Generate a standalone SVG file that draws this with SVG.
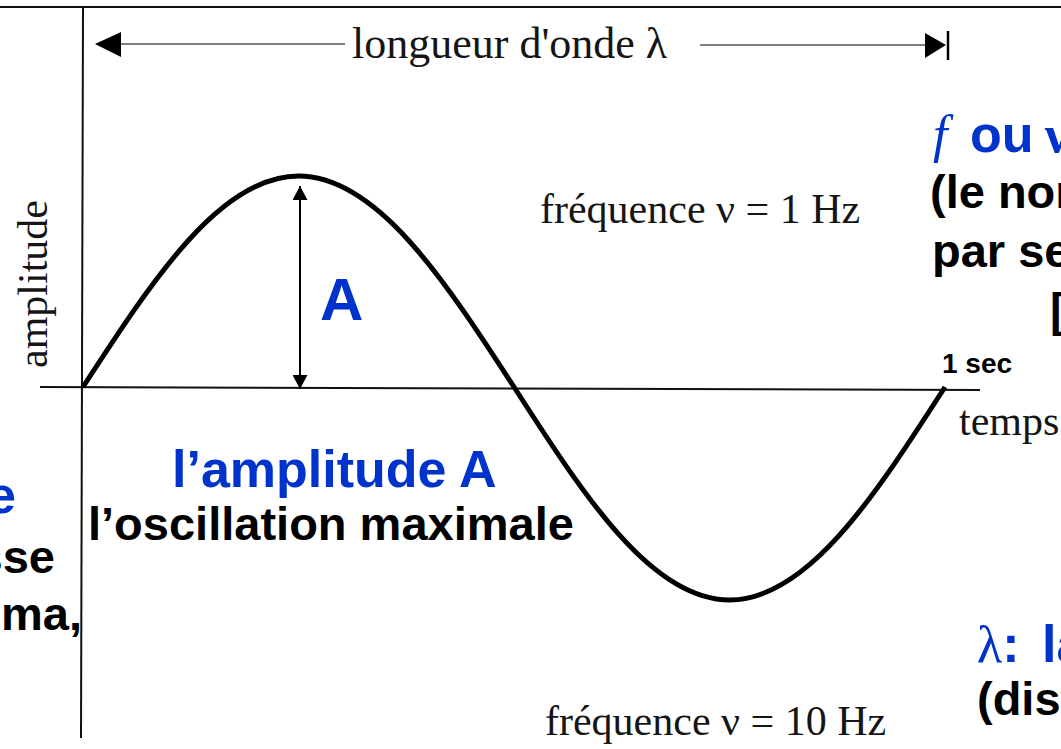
<svg xmlns="http://www.w3.org/2000/svg" width="1061" height="749" viewBox="0 0 1061 749">
<style>
.serif{font-family:"Liberation Serif","Times New Roman",serif;font-size:42px;fill:#151515}
.bold{font-family:"Liberation Sans",Arial,sans-serif;font-weight:bold;font-size:47px;fill:#000}
.blue{font-family:"Liberation Sans",Arial,sans-serif;font-weight:bold;font-size:52px;fill:#0033CC}
.ax{stroke:#111;stroke-width:2;fill:none}
.thin{stroke:#555;stroke-width:1.5;fill:none}
</style>
<defs>
<marker id="ah" viewBox="0 0 14 15" refX="14" refY="7.5" markerWidth="14" markerHeight="15" markerUnits="userSpaceOnUse" orient="auto-start-reverse">
<path d="M0,0 L14,7.5 L0,15 Z" fill="#000"/>
</marker>
</defs>
<rect width="1061" height="749" fill="#fff"/>
<g id="frame">
<line x1="0" y1="7" x2="1061" y2="7" stroke="#111" stroke-width="2"/>
<line class="ax" x1="83" y1="7" x2="81" y2="738"/>
<line class="ax" x1="40" y1="387" x2="980" y2="390"/>
</g>
<g id="wave">
<path d="M83,387 C153.28,278.91 220.51,176 298.5,176 C376.49,176 443.72,278.91 514,387 C584.28,496.1 651.51,600 729.5,600 C807.49,600 874.72,496.1 945,387" fill="none" stroke="#000" stroke-width="5"/>
</g>
<g id="connectors">
<line class="thin" x1="121" y1="44" x2="345" y2="44"/>
<polygon points="95,44 121,32 121,57" fill="#000"/>
<line class="thin" x1="700" y1="45" x2="925" y2="45"/>
<polygon points="946,45 925,33 925,58" fill="#000"/>
<line x1="948" y1="31" x2="948" y2="60" stroke="#000" stroke-width="2.5"/>
<line x1="300" y1="186" x2="300" y2="389" stroke="#000" stroke-width="2" marker-start="url(#ah)" marker-end="url(#ah)"/>
</g>
<g id="label-wavelength"><text class="serif" x="352" y="58" style="font-size:44px">longueur d'onde  λ</text></g>
<g id="label-axis-y"><text class="serif" transform="translate(47,368) rotate(-90)">amplitude</text></g>
<g id="label-A"><text class="blue" x="320" y="320" style="font-size:60px">A</text></g>
<g id="label-freq1"><text class="serif" x="540" y="223">fréquence ν = 1 Hz</text></g>
<g id="label-freq10"><text class="serif" x="545" y="735">fréquence ν = 10 Hz</text></g>
<g id="label-temps"><text class="serif" x="959" y="435">temps</text></g>
<g id="label-1sec"><text class="bold" x="942" y="373" style="font-size:28px">1 sec</text></g>
<g id="label-amplitude">
<text class="blue" x="172" y="487">l’amplitude A</text>
<text class="bold" x="88" y="540">l’oscillation maximale</text>
</g>
<g id="label-left">
<text class="blue" x="16" y="513" text-anchor="end">e</text>
<text class="bold" x="55" y="573" text-anchor="end">sse</text>
<text class="bold" x="82" y="630" text-anchor="end">ma,</text>
</g>
<g id="label-frequency">
<text class="blue" x="933" y="152"><tspan style="font-family:'Liberation Serif',serif;font-style:italic;font-weight:normal">f</tspan><tspan x="970">ou</tspan><tspan x="1045" style="font-family:'Liberation Serif',serif">ν</tspan></text>
<text class="bold" x="930" y="208">(le nombre</text>
<text class="bold" x="932" y="267">par seconde</text>
<text class="bold" x="1050" y="326">[Hz]</text>
</g>
<g id="label-lambda">
<text class="blue" x="977" y="662"><tspan style="font-family:'Liberation Serif',serif;font-weight:normal">λ</tspan><tspan>:</tspan><tspan x="1042">la</tspan></text>
<text class="bold" x="977" y="715">(distance</text>
</g>
</svg>
